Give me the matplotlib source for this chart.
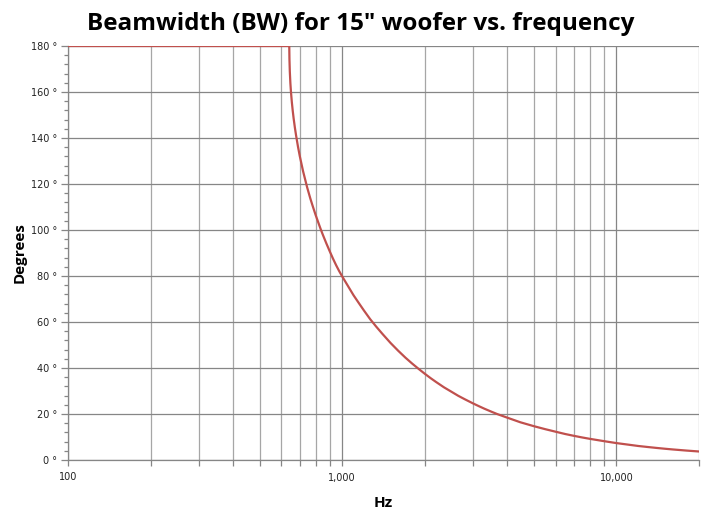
import matplotlib
matplotlib.use("Agg")
import matplotlib.pyplot as plt
from matplotlib.ticker import FixedLocator, FuncFormatter, MultipleLocator

freq_hz = [100, 641, 642, 644, 647, 650, 655, 660, 665, 672, 679, 690, 700, 720,
           745, 765, 780, 800, 820, 835, 850, 875, 900, 925, 950, 975,
           1000, 1050, 1100, 1150, 1200, 1265, 1330, 1400, 1500, 1600, 1700, 1800,
           1900, 2000, 2100, 2200, 2350, 2500, 2650, 2800, 3000, 3150, 3300, 3500,
           3670, 4000, 4463, 5000, 5500, 6000, 6500, 7000, 7500, 8000, 9000, 10000,
           11000, 12000, 13000, 14000, 15000, 16000, 18000, 20000]
beamwidth_deg = [180, 180, 174.3, 168.9, 163.9, 160.3, 155.6, 151.8, 148.5, 144.5, 141, 136.1, 132.2, 125.5,
                 118.5, 113.7, 110.5, 106.5, 102.9, 100.3, 97.9, 94.2, 90.8, 87.6, 84.7, 82.1,
                 79.8, 75.6, 71.6, 68.2, 65, 61.2, 58, 54.9, 50.9, 47.5, 44.5, 41.9,
                 39.6, 37.5, 35.6, 33.9, 31.6, 29.7, 27.9, 26.4, 24.6, 23.4, 22.3, 21.0,
                 20.0, 18.4, 16.4, 14.7, 13.4, 12.3, 11.3, 10.5, 9.8, 9.2, 8.2, 7.35,
                 6.7, 6.1, 5.65, 5.25, 4.9, 4.6, 4.1, 3.7]
x_major_ticks = [100, 1000, 10000]
x_major_labels = ["100", "1,000", "10,000"]
y_major_ticks = [0, 20, 40, 60, 80, 100, 120, 140, 160, 180]

title = 'Beamwidth (BW) for 15" woofer vs. frequency'
xlabel = "Hz"
ylabel = "Degrees"

fig = plt.figure(figsize=(7.1, 5.16), dpi=100)
ax = fig.add_axes([68/710, 1-460/516, (699-68)/710, (460-46)/516])

ax.plot(freq_hz, beamwidth_deg, color="#C0504D", lw=1.6, solid_joinstyle="round", zorder=3)
ax.set_xscale("log")
ax.set_xlim(100, 20000)
ax.set_ylim(0, 180)

minor_x = [m * 10**e for e in (2, 3, 4) for m in range(2, 10) if m * 10**e <= 20000]
ax.xaxis.set_major_locator(FixedLocator(x_major_ticks))
ax.xaxis.set_minor_locator(FixedLocator(minor_x))
ax.xaxis.set_major_formatter(FuncFormatter(lambda v, p: x_major_labels[x_major_ticks.index(int(round(v)))] if int(round(v)) in x_major_ticks else ""))
ax.xaxis.set_minor_formatter(FuncFormatter(lambda v, p: ""))

ax.yaxis.set_major_locator(FixedLocator(y_major_ticks))
ax.yaxis.set_minor_locator(MultipleLocator(4))
ax.yaxis.set_major_formatter(FuncFormatter(lambda v, p: f"{int(v)} °"))

ax.grid(True, which="major", axis="both", color="#868686", lw=0.9)
ax.grid(True, which="minor", axis="x", color="#A6A6A6", lw=0.9)
ax.set_axisbelow(True)

for s in ("top", "right"):
    ax.spines[s].set_visible(False)
for s in ("left", "bottom"):
    ax.spines[s].set_color("#868686")
    ax.spines[s].set_linewidth(0.9)

ax.tick_params(axis="both", which="both", color="#868686", width=0.9, direction="out",
               labelsize=7, labelcolor="#222222")
ax.tick_params(axis="x", which="major", length=4, pad=5)
ax.tick_params(axis="x", which="minor", length=4)
ax.tick_params(axis="y", which="major", length=5, pad=3)
ax.tick_params(axis="y", which="minor", length=3)

fig.text(361/710, 1 - 24/516, title, ha="center", va="center",
         fontsize=17.5, fontweight="bold", family="Open Sans")
fig.text(383/710, 1 - 503/516, xlabel, ha="center", va="center",
         fontsize=11, fontweight="bold", family="Open Sans")
fig.text(20/710, 1 - 253/516, ylabel, ha="center", va="center", rotation=90,
         fontsize=11, fontweight="bold", family="Open Sans")

fig.savefig("out.png", dpi=100)
